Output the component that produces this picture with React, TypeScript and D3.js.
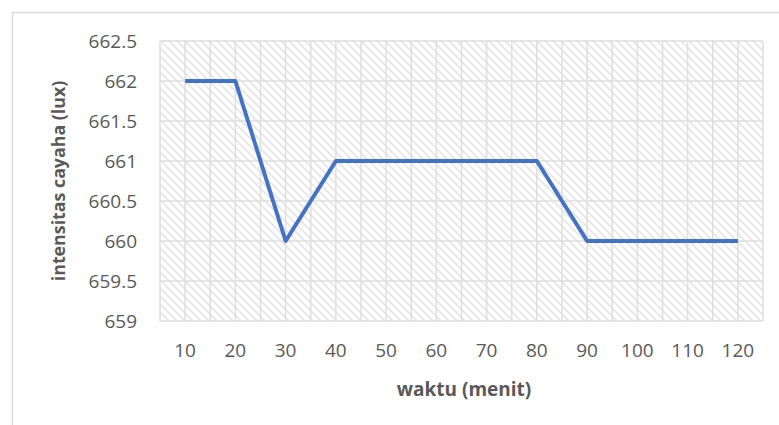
import React, { useEffect, useRef } from "react";
import * as d3 from "d3";

const waktu = [10, 20, 30, 40, 50, 60, 70, 80, 90, 100, 110, 120];
const intensitas = [662, 662, 660, 661, 661, 661, 661, 661, 660, 660, 660, 660];
const yTicks = [659, 659.5, 660, 660.5, 661, 661.5, 662, 662.5];

const W = 779;
const H = 425;

export default function App() {
  const ref = useRef<SVGSVGElement>(null);

  useEffect(() => {
    const svg = d3.select(ref.current);
    svg.selectAll("*").remove();

    const left = 160, right = 763, top = 41, bottom = 321;
    const font = "'Open Sans', Calibri, sans-serif";

    // hatched plot background
    const defs = svg.append("defs");
    const pat = defs.append("pattern")
      .attr("id", "hatch")
      .attr("patternUnits", "userSpaceOnUse")
      .attr("width", 8)
      .attr("height", 8);
    pat.append("rect").attr("width", 8).attr("height", 8).attr("fill", "#fff");
    pat.append("path")
      .attr("d", "M-2,-2 L10,10 M-2,6 L2,10 M6,-2 L10,2")
      .attr("stroke", "#e6e6e6")
      .attr("stroke-width", 1.6);

    // chart frame
    svg.append("rect")
      .attr("x", 12.5).attr("y", 12.5)
      .attr("width", W + 20).attr("height", H + 20)
      .attr("fill", "#fff")
      .attr("stroke", "#d9d9d9")
      .attr("stroke-width", 1.5);

    const x = d3.scaleBand<number>()
      .domain(waktu)
      .range([left, right]);

    const y = d3.scaleLinear()
      .domain([659, 662.5])
      .range([bottom, top]);

    svg.append("rect")
      .attr("x", left).attr("y", top)
      .attr("width", right - left).attr("height", bottom - top)
      .attr("fill", "url(#hatch)");

    // vertical gridlines: band edges and centres
    const vLines: number[] = [];
    waktu.forEach(d => {
      vLines.push(x(d)!);
      vLines.push(x(d)! + x.bandwidth() / 2);
    });
    vLines.push(right);
    svg.append("g").selectAll("line")
      .data(vLines)
      .enter().append("line")
      .attr("x1", d => d).attr("x2", d => d)
      .attr("y1", top).attr("y2", bottom)
      .attr("stroke", "#dedede")
      .attr("stroke-width", 1.5);

    // horizontal gridlines
    svg.append("g").selectAll("line")
      .data(yTicks)
      .enter().append("line")
      .attr("x1", left).attr("x2", right)
      .attr("y1", d => y(d)).attr("y2", d => y(d))
      .attr("stroke", "#dedede")
      .attr("stroke-width", 1.5);

    // y tick labels
    svg.append("g").selectAll("text")
      .data(yTicks)
      .enter().append("text")
      .attr("x", 137)
      .attr("y", d => y(d) + 7)
      .attr("text-anchor", "end")
      .attr("font-family", font)
      .attr("font-size", 19)
      .attr("fill", "#595959")
      .text(d => String(d));

    // x tick labels
    svg.append("g").selectAll("text")
      .data(waktu)
      .enter().append("text")
      .attr("x", d => x(d)! + x.bandwidth() / 2)
      .attr("y", 357)
      .attr("text-anchor", "middle")
      .attr("font-family", font)
      .attr("font-size", 19)
      .attr("fill", "#595959")
      .text(d => String(d));

    // axis titles
    svg.append("text")
      .attr("x", 464)
      .attr("y", 396)
      .attr("text-anchor", "middle")
      .attr("font-family", font)
      .attr("font-weight", "bold")
      .attr("font-size", 19)
      .attr("fill", "#595959")
      .text("waktu (menit)");

    svg.append("text")
      .attr("transform", `translate(65,${(top + bottom) / 2}) rotate(-90)`)
      .attr("text-anchor", "middle")
      .attr("font-family", font)
      .attr("font-weight", "bold")
      .attr("font-size", 17.8)
      .attr("fill", "#595959")
      .text("intensitas cayaha (lux)");

    // the line
    const line = d3.line<number>()
      .x((d, i) => x(waktu[i])! + x.bandwidth() / 2)
      .y(d => y(d));

    svg.append("path")
      .datum(intensitas)
      .attr("fill", "none")
      .attr("stroke", "#4472C4")
      .attr("stroke-width", 4)
      .attr("stroke-linejoin", "round")
      .attr("d", line);
  }, []);

  return (
    <svg
      ref={ref}
      width={W}
      height={H}
      style={{ position: "absolute", left: 0, top: 0, background: "#fff" }}
    />
  );
}
